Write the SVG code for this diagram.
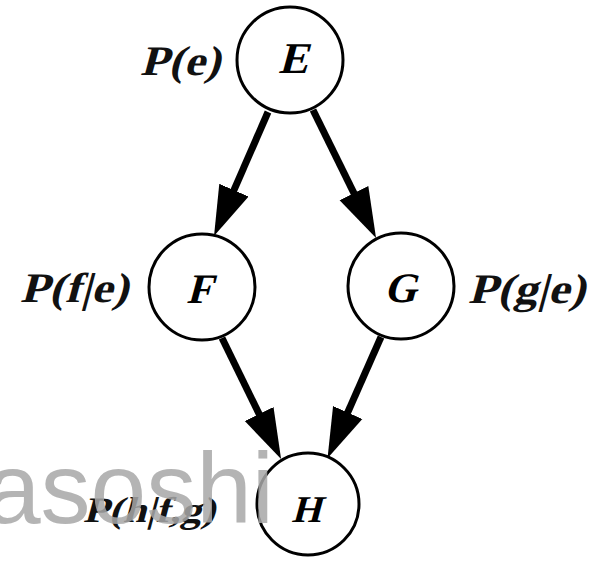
<svg xmlns="http://www.w3.org/2000/svg" width="600" height="562" viewBox="0 0 600 562">
<style>
.node{fill:#fff;stroke:#000;stroke-width:3}
.nl{font-family:"Liberation Serif","Times New Roman",serif;font-weight:bold;fill:#000;text-anchor:middle}
.pl{font-family:"Liberation Serif","Times New Roman",serif;font-weight:bold;fill:#111}
.edge{stroke:#000;stroke-width:7;fill:none;marker-end:url(#ah)}
.wm{font-family:"Liberation Sans",Arial,sans-serif;font-size:100px;fill:#a8a8a8;opacity:0.85}
</style>
<defs>
<marker id="ah" markerUnits="userSpaceOnUse" markerWidth="52" markerHeight="38" viewBox="0 0 52 38" refX="30" refY="19" orient="auto">
<path d="M0,3 L50,19 L0,35 z" fill="#000"/>
</marker>
</defs>
<rect width="600" height="562" fill="#fff"/>
<g id="connectors">
<line class="edge" x1="268" y1="112" x2="222" y2="217.7"/>
<line class="edge" x1="313" y1="110" x2="367.2" y2="220.1"/>
<line class="edge" x1="222" y1="338" x2="272.3" y2="441"/>
<line class="edge" x1="381" y1="337" x2="335.6" y2="439.9"/>
</g>
<g id="E">
<circle class="node" cx="290" cy="60" r="53"/>
<text class="nl" transform="translate(293,73) skewX(-15)" font-size="44">E</text>
<text class="pl" transform="translate(140,75) skewX(-15)" font-size="42" textLength="80" lengthAdjust="spacingAndGlyphs">P(e)</text>
</g>
<g id="F">
<circle class="node" cx="202" cy="287" r="53"/>
<text class="nl" transform="translate(199,303) skewX(-15)" font-size="42">F</text>
<text class="pl" transform="translate(20,302) skewX(-15)" font-size="42" textLength="108" lengthAdjust="spacingAndGlyphs">P(f|e)</text>
</g>
<g id="G">
<circle class="node" cx="401" cy="286" r="53"/>
<text class="nl" transform="translate(400,302) skewX(-15)" font-size="42">G</text>
<text class="pl" transform="translate(468,303) skewX(-15)" font-size="42" textLength="117" lengthAdjust="spacingAndGlyphs">P(g|e)</text>
</g>
<g id="H">
<circle class="node" cx="308" cy="504" r="51"/>
<text class="nl" transform="translate(306,522) skewX(-15)" font-size="38">H</text>
<text class="pl" transform="translate(83,522) skewX(-15)" font-size="36" textLength="132" lengthAdjust="spacingAndGlyphs">P(h|f,g)</text>
</g>
<text class="wm" x="-15" y="523">asoshi</text>
</svg>
